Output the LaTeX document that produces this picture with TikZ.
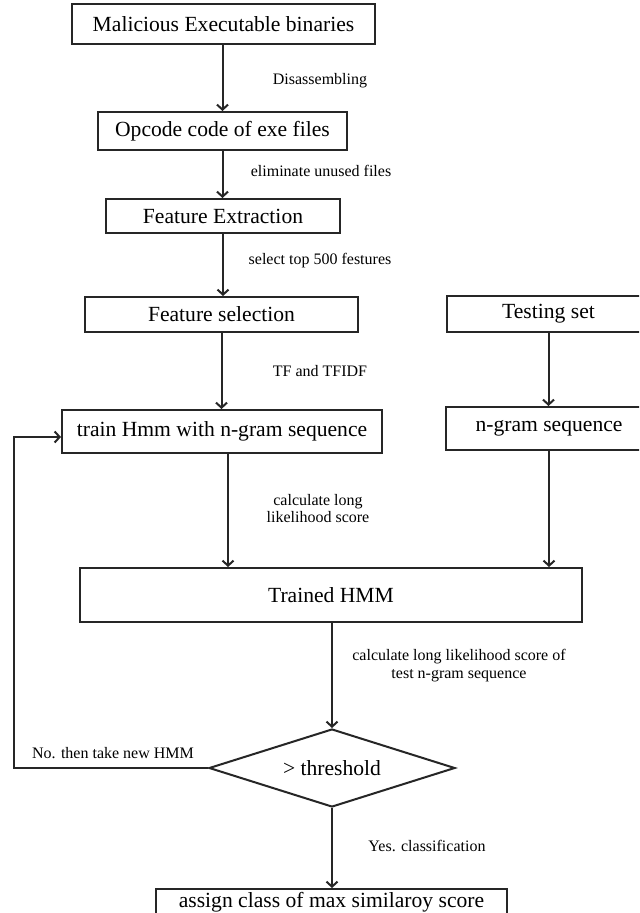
\documentclass[tikz,border=0pt]{standalone}
\usepackage{fontspec}
\setmainfont{Liberation Serif}
\usetikzlibrary{shapes.geometric,arrows.meta,calc}

\begin{document}
\begin{tikzpicture}[x=0.5pt,y=-0.5pt,
  box/.style={draw=black!85, line width=1pt, rectangle, inner sep=0pt, fill=white,
    font=\fontsize{10.8pt}{13pt}\selectfont},
  decision/.style={draw=black!85, line width=1pt, diamond, aspect=3, inner sep=0pt, fill=white,
    font=\fontsize{10.8pt}{13pt}\selectfont},
  lbl/.style={font=\fontsize{8pt}{8.6pt}\selectfont, align=center, inner sep=0pt},
  arr/.style={draw=black!85, line width=1pt, -{Straight Barb[length=2.5pt,width=5.5pt]}},
  line/.style={draw=black!85, line width=1pt},
]
\useasboundingbox (0,0) rectangle (639,913);
\fill[white] (0,0) rectangle (639,913);
\clip (0,0) rectangle (639,913);

% boxes
\node[box, minimum width=151.5pt, minimum height=20pt] (b1) at (223.5,24) {Malicious Executable binaries};
\node[box, minimum width=124.5pt, minimum height=19pt] (b2) at (222.5,131) {Opcode code of exe files};
\node[box, minimum width=117pt, minimum height=17pt] (b3) at (223,216) {Feature Extraction};
\node[box, minimum width=136.5pt, minimum height=17.5pt] (b4) at (221.5,314.5) {Feature selection};
\node[box, minimum width=101.5pt, minimum height=18pt] (test) at (548.5,314) {Testing set};
\node[box, minimum width=160pt, minimum height=21.5pt] (train) at (222,431.5) {train Hmm with n-gram sequence};
\node[box, minimum width=103pt, minimum height=21.5pt] (ngram) at (549,428.5) {n-gram sequence};
\node[box, minimum width=251pt, minimum height=27pt] (trained) at (331,595) {Trained HMM};
\node[decision, minimum width=123pt, minimum height=39pt] (dia) at (332,768) {> threshold};
\node[box, anchor=north, minimum width=175.5pt, text height=9pt, text depth=10pt] (bot) at (331.5,888) {assign class of max similaroy score};

% labels
\node[lbl] (l1) at (320,81) {Disassembling};
\node[lbl] (l2) at (321,171) {eliminate unused files};
\node[lbl] (l3) at (320,261) {select top 500 festures};
\node[lbl] (l4) at (320,371) {TF and TFIDF};
\node[lbl] (l5) at (318,508.5) {calculate long\\likelihood score};
\node[lbl] (l6) at (459,665.5) {calculate long likelihood score of\\test n-gram sequence};
\node[lbl] (l7) at (113,753) {No. then take new HMM};
\node[lbl] (l8) at (427,846) {Yes. classification};

% connectors
\draw[arr] (b1.south -| b2.north) -- (b2.north);
\draw[arr] (b2.south) -- (b2.south |- b3.north);
\draw[arr] (b3.south) -- (b3.south |- b4.north);
\draw[arr] (b4.south) -- (b4.south |- train.north);
\draw[arr] (test.south) -- (test.south |- ngram.north);
\draw[arr] ([xshift=3pt]train.south) -- ([xshift=3pt]train.south |- trained.north);
\draw[arr] (ngram.south) -- (ngram.south |- trained.north);
\draw[arr] (dia.north |- trained.south) -- (dia.north);
\draw[arr] (dia.south) -- (dia.south |- bot.north);

\coordinate (loopA) at (14,768);
\coordinate (loopB) at (14,437);
\draw[arr] (dia.west) -- (loopA) -- (loopB) -- (loopB -| train.west);
\end{tikzpicture}
\end{document}
